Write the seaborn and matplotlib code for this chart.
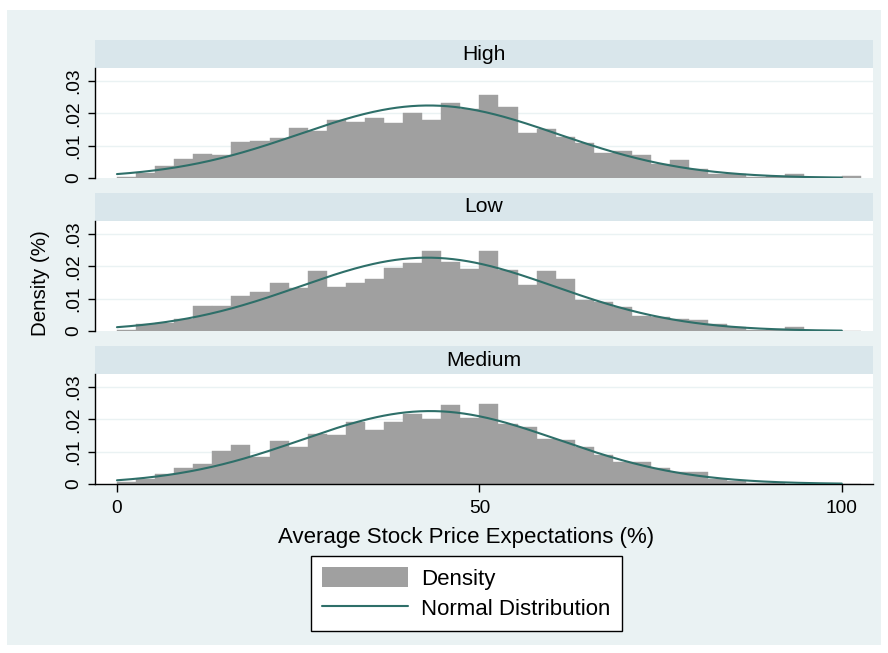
import numpy as np
import pandas as pd
import matplotlib
matplotlib.use("Agg")
import matplotlib.pyplot as plt
from matplotlib.patches import Patch, Rectangle
from matplotlib.lines import Line2D
import seaborn as sns

# Histogram bins (shared by all groups): 39 bins of width 100/38 starting at 0
BIN_WIDTH = 100 / 38
N_BINS = 39

groups = ["High", "Low", "Medium"]

density_high = [0.0004, 0.0016, 0.0036, 0.0058, 0.0075, 0.0070, 0.0111, 0.0114,
                0.0123, 0.0154, 0.0145, 0.0178, 0.0172, 0.0184, 0.0170, 0.0200,
                0.0178, 0.0231, 0.0214, 0.0256, 0.0219, 0.0138, 0.0151, 0.0126,
                0.0108, 0.0076, 0.0082, 0.0070, 0.0044, 0.0055, 0.0027, 0.0011,
                0.0011, 0.0003, 0.0005, 0.0011, 0.0003, 0.0002, 0.0005]
density_low = [0.0002, 0.0023, 0.0025, 0.0038, 0.0076, 0.0078, 0.0108, 0.0122,
               0.0147, 0.0133, 0.0185, 0.0137, 0.0148, 0.0160, 0.0194, 0.0210,
               0.0248, 0.0212, 0.0192, 0.0246, 0.0188, 0.0141, 0.0185, 0.0162,
               0.0096, 0.0089, 0.0073, 0.0046, 0.0044, 0.0038, 0.0033, 0.0021,
               0.0012, 0.0004, 0.0007, 0.0012, 0.0, 0.0, 0.0]
density_medium = [0.0006, 0.0014, 0.0032, 0.0051, 0.0061, 0.0101, 0.0122, 0.0082,
                  0.0132, 0.0113, 0.0156, 0.0153, 0.0193, 0.0166, 0.0191, 0.0216,
                  0.0200, 0.0243, 0.0203, 0.0246, 0.0187, 0.0175, 0.0139, 0.0136,
                  0.0115, 0.0089, 0.0067, 0.0067, 0.0048, 0.0036, 0.0036, 0.0017,
                  0.0009, 0.0004, 0.0002, 0.0, 0.0, 0.0, 0.0]

# Fitted normal parameters per group
normal_mean = [43.0, 42.8, 43.2]
normal_sd = [17.8, 17.6, 17.7]

y_ticks = [0, 0.01, 0.02, 0.03]
y_tick_labels = ["0", ".01", ".02", ".03"]
x_ticks = [0, 50, 100]
x_tick_labels = ["0", "50", "100"]

edges = np.arange(N_BINS + 1) * BIN_WIDTH
centers = (edges[:-1] + edges[1:]) / 2
hist_df = pd.concat([
    pd.DataFrame({"group": g, "center": centers, "density": d})
    for g, d in zip(groups, [density_high, density_low, density_medium])
])

curve_x = np.linspace(0, 100, 400)
curve_df = pd.concat([
    pd.DataFrame({
        "group": g, "x": curve_x,
        "pdf": np.exp(-0.5 * ((curve_x - m) / s) ** 2) / (s * np.sqrt(2 * np.pi)),
    })
    for g, m, s in zip(groups, normal_mean, normal_sd)
])

sns.set_style("white")
plt.rcParams["font.family"] = ["Liberation Sans", "DejaVu Sans"]
plt.rcParams["text.color"] = "black"
plt.rcParams["xtick.color"] = "black"
plt.rcParams["ytick.color"] = "black"

BG = "#EAF2F3"
STRIP = "#D9E6EB"
BAR = "#A0A0A0"
LINE = "#2E6F69"

W, H = 888, 653
fig = plt.figure(figsize=(W / 100, H / 100), dpi=100, facecolor="white")
fig.patches.append(Rectangle((7 / W, 1 - 645 / H), (881 - 7) / W, (645 - 10) / H,
                             transform=fig.transFigure, facecolor=BG,
                             edgecolor="none", zorder=-10))

left_px, right_px = 95, 873
panel_tops = [40, 193, 346]  # strip top edge of each panel (pixels)
strip_h, plot_h = 28, 110

def fx(px):
    return px / W

def fy(py):
    return 1 - py / H

for i, g in enumerate(groups):
    top = panel_tops[i]
    # strip header
    sax = fig.add_axes([fx(left_px), fy(top + strip_h), fx(right_px - left_px), strip_h / H])
    sax.set_facecolor(STRIP)
    sax.set_xticks([]); sax.set_yticks([])
    for sp in sax.spines.values():
        sp.set_visible(False)
    sax.text(0.5, 0.5, g, ha="center", va="center", fontsize=15.2,
             transform=sax.transAxes, color="black")

    ax = fig.add_axes([fx(left_px), fy(top + strip_h + plot_h), fx(right_px - left_px), plot_h / H])
    ax.set_facecolor("white")
    sub = hist_df[hist_df["group"] == g]
    sns.histplot(data=sub, x="center", weights="density", binwidth=BIN_WIDTH,
                 binrange=(0, N_BINS * BIN_WIDTH), stat="count",
                 color=BAR, alpha=1, edgecolor=BAR, linewidth=0.3, ax=ax, zorder=2)
    csub = curve_df[curve_df["group"] == g]
    sns.lineplot(data=csub, x="x", y="pdf", color=LINE, linewidth=1.5, ax=ax, zorder=3)

    ax.set_xlim(-3.03, 104.3)
    ax.set_ylim(0, 0.034)
    ax.set_yticks(y_ticks)
    ax.set_yticklabels(y_tick_labels, rotation=90, va="center", fontsize=13.8)
    for yt in y_ticks[1:]:
        ax.axhline(yt, color=BG, linewidth=1.0, zorder=1)
    ax.tick_params(axis="y", direction="out", length=5, width=1, color="black", pad=4, left=True)
    ax.set_xlabel(""); ax.set_ylabel("")
    ax.spines["top"].set_visible(False)
    ax.spines["right"].set_visible(False)
    ax.spines["left"].set_color("black")
    ax.spines["left"].set_linewidth(1.0)
    if i == len(groups) - 1:
        ax.spines["bottom"].set_color("black")
        ax.spines["bottom"].set_linewidth(1.0)
        ax.set_xticks(x_ticks)
        ax.set_xticklabels(x_tick_labels, fontsize=13.8)
        ax.tick_params(axis="x", direction="out", length=6, width=1, color="black", pad=5.5, bottom=True)
    else:
        ax.spines["bottom"].set_visible(False)
        ax.set_xticks([])

fig.text(fx(40), fy(283), "Density (%)", rotation=90, ha="center", va="center", fontsize=14.8)
fig.text(fx(466), fy(537), "Average Stock Price Expectations (%)", ha="center", va="center",
         fontsize=16)

handles = [Patch(facecolor=BAR, edgecolor="none"),
           Line2D([0], [0], color=LINE, linewidth=1.5)]
leg = fig.legend(handles, ["Density", "Normal Distribution"], loc="center",
                 bbox_to_anchor=(fx(466.5), fy(593.5)), fontsize=16,
                 frameon=True, fancybox=False, edgecolor="black", facecolor="white",
                 framealpha=1, handlelength=3.85, handleheight=1.0, handletextpad=0.6,
                 labelspacing=0.35, borderpad=0.5, borderaxespad=0)
leg.get_frame().set_linewidth(1.0)

fig.savefig("out.png", dpi=100, facecolor="white")
